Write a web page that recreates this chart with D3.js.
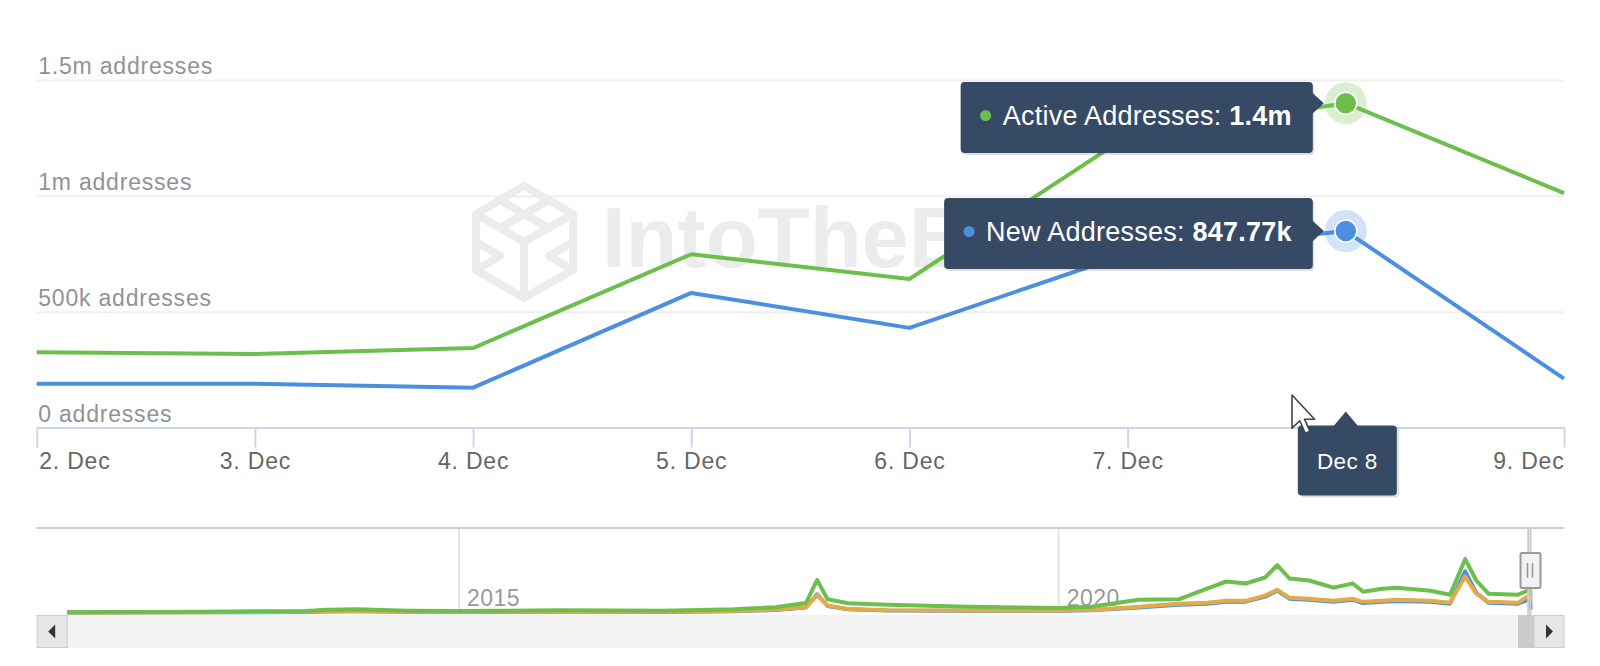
<!DOCTYPE html>
<html>
<head>
<meta charset="UTF-8">
<title>Active / New Addresses</title>
<style>
  html, body { margin: 0; padding: 0; background: #fff; }
  svg { display: block; font-family: "Liberation Sans", Arial, sans-serif; }
</style>
</head>
<body>
<svg id="chart" width="1600" height="666"></svg>
<script src="https://cdn.jsdelivr.net/npm/d3@7"></script>
<script>
// ---- data ----
var dates = ["2023-12-02", "2023-12-03", "2023-12-04", "2023-12-05",
             "2023-12-06", "2023-12-07", "2023-12-08", "2023-12-09"];
var activeAddresses = [325000, 317000, 343000, 748000, 641000, 1258000, 1400000, 1012000];
var newAddresses    = [189000, 189000, 172000, 581000, 430000, 750000, 847770, 211000];

var yTicks = [0, 500000, 1000000, 1500000];
var yTickLabels = ["0 addresses", "500k addresses", "1m addresses", "1.5m addresses"];

// hovered point shown in the tooltips
var hoverIndex = 6;
var hoverLabel = "Dec 8";
var tooltipNames = ["Active Addresses", "New Addresses"];
var tooltipValues = ["1.4m", "847.77k"];

// navigator (whole history, millions of addresses)
var navDates = ["2011-09-28", "2012-11-18", "2013-04-22", "2013-09-25", "2013-11-26", "2014-02-27",
                "2014-08-01", "2015-01-01", "2015-11-09", "2016-09-16", "2017-04-20", "2017-08-23",
                "2017-11-24", "2017-12-28", "2018-01-29", "2018-04-01", "2018-07-30", "2019-04-05",
                "2020-01-01", "2020-04-10", "2020-09-02", "2021-01-02", "2021-03-29", "2021-05-27",
                "2021-07-25", "2021-09-22", "2021-10-29", "2021-12-05", "2022-02-03", "2022-04-18",
                "2022-06-16", "2022-07-17", "2022-09-14", "2022-10-28", "2023-02-08", "2023-04-08",
                "2023-05-24", "2023-06-27", "2023-08-03", "2023-11-01", "2023-12-08", "2023-12-09"];
var navActive = [0.05, 0.07, 0.10, 0.12, 0.20, 0.22, 0.14, 0.12, 0.16, 0.13, 0.22, 0.35,
                 0.60, 1.98, 0.82, 0.58, 0.49, 0.37, 0.30, 0.37, 0.79, 0.82, 1.46, 1.89,
                 1.77, 2.13, 2.87, 2.07, 1.95, 1.52, 1.77, 1.28, 1.46, 1.52, 1.34, 1.10,
                 3.23, 1.95, 1.16, 1.10, 1.40, 1.01];
var navOrange = [0.03, 0.04, 0.06, 0.07, 0.10, 0.11, 0.08, 0.07, 0.08, 0.07, 0.12, 0.20,
                 0.35, 1.07, 0.45, 0.24, 0.17, 0.15, 0.15, 0.18, 0.37, 0.55, 0.61, 0.73,
                 0.73, 1.04, 1.40, 0.91, 0.85, 0.73, 0.85, 0.67, 0.73, 0.79, 0.73, 0.61,
                 2.20, 1.16, 0.67, 0.61, 1.10, 0.73];
var navNew    = [0.03, 0.04, 0.05, 0.06, 0.09, 0.10, 0.07, 0.06, 0.07, 0.06, 0.11, 0.18,
                 0.33, 1.12, 0.42, 0.22, 0.15, 0.13, 0.13, 0.16, 0.33, 0.50, 0.56, 0.68,
                 0.68, 0.98, 1.35, 0.86, 0.80, 0.68, 0.80, 0.60, 0.68, 0.72, 0.68, 0.56,
                 2.50, 1.20, 0.62, 0.56, 0.85, 0.21];
var navTicks = ["2015-01-01", "2020-01-01"];

// ---- setup ----
var parse = d3.timeParse("%Y-%m-%d");
var green = "#6cbf4b", blue = "#4a8fe0", orange = "#e3aa48";
var ttFill = "#364a65";

var svg = d3.select("#chart");
var plotLeft = 36.7, plotRight = 1564, plotTop = 80, plotBottom = 427.5;

var x = d3.scaleTime()
  .domain([parse(dates[0]), parse(dates[dates.length - 1])])
  .range([plotLeft, plotRight]);
var y = d3.scaleLinear().domain([0, 1500000]).range([plotBottom, plotTop]);

// grid + y labels
var yAxis = svg.append("g")
  .attr("transform", "translate(" + plotLeft + ",0)")
  .call(d3.axisLeft(y).tickValues(yTicks).tickSize(-(plotRight - plotLeft))
        .tickFormat(function(d, i) { return yTickLabels[i]; }));
yAxis.select(".domain").remove();
yAxis.selectAll(".tick line").attr("stroke", "#efefef").attr("stroke-width", 2);
yAxis.selectAll(".tick text")
  .attr("x", 1.5).attr("dy", -6.5).attr("text-anchor", "start")
  .attr("fill", "#8f9398").style("font-size", "23px").style("letter-spacing", "0.8px")
  .style("font-family", null);

// watermark (its right part sits under the tooltips)
svg.append("clipPath").attr("id", "wmclip").append("rect")
  .attr("x", 0).attr("y", 0).attr("width", 944).attr("height", 666);
var wm = svg.append("g").attr("fill", "none").attr("stroke", "#ececec").attr("stroke-width", 8)
  .attr("stroke-linejoin", "round");
wm.append("path").attr("d", "M524,186 L573,214 L573,270 L524,298 L476,270 L476,214 Z");
wm.append("path").attr("d", "M476,214 L524,242 L573,214 M524,242 L524,298");
wm.append("path").attr("d", "M500,200 L549,228 M549,200 L500,228 M476,242 L500,256 L476,270 M573,242 L549,256 L573,270");
svg.append("text").attr("x", 602).attr("y", 267).attr("clip-path", "url(#wmclip)")
  .attr("fill", "#ececec").style("font-size", "85px").style("font-weight", "bold")
  .text("IntoTheB");

// x axis
var xAxis = svg.append("g")
  .attr("transform", "translate(0," + plotBottom + ")")
  .call(d3.axisBottom(x).ticks(d3.timeDay.every(1)).tickSize(20).tickSizeOuter(0)
        .tickFormat(d3.timeFormat("%-d. %b")));
xAxis.select(".domain").attr("stroke", "#ccd6eb").attr("stroke-width", 2);
xAxis.selectAll(".tick line").attr("stroke", "#ccd6eb").attr("stroke-width", 2);
var xt = xAxis.selectAll(".tick text")
  .attr("y", 41).attr("dy", 0).attr("fill", "#666").style("font-size", "23px")
  .style("letter-spacing", "0.8px").style("font-family", null);
xt.filter(function(d, i) { return i === 0; }).attr("text-anchor", "start").attr("x", 2);
xt.filter(function(d, i, n) { return i === n.length - 1; }).attr("text-anchor", "end");
// the hovered day's label is covered by the hover label box
xt.filter(function(d, i) { return i === hoverIndex; }).remove();

// series
var rows = dates.map(function(d, i) { return { date: parse(d), a: activeAddresses[i], n: newAddresses[i] }; });
var line = d3.line().x(function(d) { return x(d.date); });
svg.append("path").datum(rows).attr("fill", "none").attr("stroke", green).attr("stroke-width", 4)
  .attr("stroke-linejoin", "round").attr("d", line.y(function(d) { return y(d.a); }));
svg.append("path").datum(rows).attr("fill", "none").attr("stroke", blue).attr("stroke-width", 4)
  .attr("stroke-linejoin", "round").attr("d", line.y(function(d) { return y(d.n); }));

// hover markers
var hx = x(rows[hoverIndex].date);
[[rows[hoverIndex].a, green], [rows[hoverIndex].n, blue]].forEach(function(p) {
  svg.append("circle").attr("cx", hx).attr("cy", y(p[0])).attr("r", 21).attr("fill", p[1]).attr("opacity", 0.25);
  svg.append("circle").attr("cx", hx).attr("cy", y(p[0])).attr("r", 11).attr("fill", p[1])
    .attr("stroke", "#fff").attr("stroke-width", 1.5);
});

// tooltips
var ttTops = [82, 198];
[[rows[hoverIndex].a, green], [rows[hoverIndex].n, blue]].forEach(function(p, i) {
  var py = y(p[0]);
  var boxRight = hx - 33, boxTop = ttTops[i], boxH = 71;
  var g = svg.append("g");
  var shadow = g.append("rect").attr("fill", "#000").attr("opacity", 0.12).attr("rx", 4);
  var box = g.append("rect").attr("fill", ttFill).attr("rx", 4);
  var arrow = g.append("path").attr("fill", ttFill);
  var txt = g.append("text").attr("y", boxTop + 42.5).attr("fill", "#fff")
    .style("font-size", "27px").style("letter-spacing", "0.25px");
  txt.append("tspan").text(tooltipNames[i] + ": ");
  txt.append("tspan").style("font-weight", "bold").text(tooltipValues[i]);
  var tw = txt.node().getComputedTextLength();
  var textX = boxRight - 21 - tw;
  txt.attr("x", textX);
  var boxLeft = textX - 42;
  box.attr("x", boxLeft).attr("y", boxTop).attr("width", boxRight - boxLeft).attr("height", boxH);
  shadow.attr("x", boxLeft + 1.5).attr("y", boxTop + 2).attr("width", boxRight - boxLeft).attr("height", boxH);
  arrow.attr("d", "M" + (boxRight - 1) + "," + (py - 11) + " L" + (boxRight + 11) + "," + py +
    " L" + (boxRight - 1) + "," + (py + 11) + " Z");
  g.append("circle").attr("cx", textX - 17).attr("cy", boxTop + 33.5).attr("r", 5.5).attr("fill", p[1]);
});

// x hover label
var lb = svg.append("g");
lb.append("rect").attr("x", hx - 47 + 1.5).attr("y", 427.5).attr("width", 99).attr("height", 70)
  .attr("rx", 4).attr("fill", "#000").attr("opacity", 0.12);
lb.append("rect").attr("x", hx - 48).attr("y", 425.5).attr("width", 99).attr("height", 70)
  .attr("rx", 4).attr("fill", ttFill);
lb.append("path").attr("fill", ttFill)
  .attr("d", "M" + (hx - 13) + ",427 L" + hx + ",411.5 L" + (hx + 13) + ",427 Z");
lb.append("text").attr("x", hx + 1.5).attr("y", 468.5).attr("text-anchor", "middle")
  .attr("fill", "#fff").style("font-size", "22.5px").style("letter-spacing", "0.4px").text(hoverLabel);

// mouse cursor
var cur = [[0,0],[0,17],[4,13.2],[6.8,19.6],[9.2,18.6],[6.4,12.4],[11.6,12.4]];
svg.append("path")
  .attr("d", "M" + cur.map(function(c) { return (1292 + c[0] * 1.95) + "," + (395 + c[1] * 1.95); }).join(" L") + " Z")
  .attr("fill", "#fff").attr("stroke", "#444").attr("stroke-width", 1.6).attr("stroke-linejoin", "round");

// ---- navigator ----
var navTop = 528, navBottom = 613;
var nx = d3.scaleTime().domain([parse("2011-06-27"), parse("2024-03-20")]).range([plotLeft, plotRight]);
var ny = d3.scaleLinear().domain([0, 5.1]).range([navBottom, navTop]);

var nAxis = svg.append("g").attr("transform", "translate(0," + navBottom + ")")
  .call(d3.axisBottom(nx).tickValues(navTicks.map(parse)).tickSize(-(navBottom - navTop))
        .tickFormat(d3.timeFormat("%Y")));
nAxis.select(".domain").remove();
nAxis.selectAll(".tick line").attr("stroke", "#e3e3e3").attr("stroke-width", 2);
nAxis.selectAll(".tick text").attr("x", 8).attr("y", -7).attr("dy", 0).attr("text-anchor", "start")
  .attr("fill", "#999").style("font-size", "23px").style("letter-spacing", "0.5px").style("font-family", null);

var navRows = navDates.map(function(d, i) {
  return { date: parse(d), a: navActive[i], o: navOrange[i], n: navNew[i] };
});
var nline = d3.line().x(function(d) { return nx(d.date); });
[["n", blue], ["o", orange], ["a", green]].forEach(function(s) {
  svg.append("path").datum(navRows).attr("fill", "none").attr("stroke", s[1]).attr("stroke-width", 4)
    .attr("stroke-linejoin", "round")
    .attr("d", nline.y(function(d) { return ny(d[s[0]]); }));
});

// scrollbar
var sbTop = 615, sbH = 33;
svg.append("rect").attr("x", plotLeft).attr("y", sbTop).attr("width", plotRight - plotLeft).attr("height", sbH).attr("fill", "#f2f2f2");
var selMin = nx(parse(dates[0])), selMax = nx(parse(dates[dates.length - 1]));
svg.append("rect").attr("x", plotRight - 46).attr("y", sbTop).attr("width", 16).attr("height", sbH).attr("fill", "#cccccc");
[[plotLeft, -1], [plotRight - 30.5, 1]].forEach(function(b) {
  svg.append("rect").attr("x", b[0] + 0.5).attr("y", sbTop + 0.5).attr("width", 30).attr("height", sbH - 1)
    .attr("fill", "#e6e6e6").attr("stroke", "#cccccc");
  var cx = b[0] + 15.5, cy = sbTop + sbH / 2;
  svg.append("path").attr("fill", "#333")
    .attr("d", "M" + (cx - 3 * b[1]) + "," + (cy - 7) + " L" + (cx + 4 * b[1]) + "," + cy +
      " L" + (cx - 3 * b[1]) + "," + (cy + 7) + " Z");
});

// navigator outline + handle
svg.append("path").attr("fill", "none").attr("stroke", "#cccccc").attr("stroke-width", 2)
  .attr("d", "M" + plotLeft + "," + navTop + " H" + selMin + " V" + sbTop + " H" + selMax + " V" + navTop + " H" + plotRight);
var hxN = selMax;
svg.append("rect").attr("x", hxN - 10).attr("y", 553).attr("width", 20).attr("height", 35).attr("rx", 1.5)
  .attr("fill", "#f2f2f2").attr("stroke", "#999").attr("stroke-width", 2);
svg.append("path").attr("stroke", "#999").attr("stroke-width", 1.6)
  .attr("d", "M" + (hxN - 3) + ",563 V578 M" + (hxN + 2) + ",563 V578");
</script>
</body>
</html>
